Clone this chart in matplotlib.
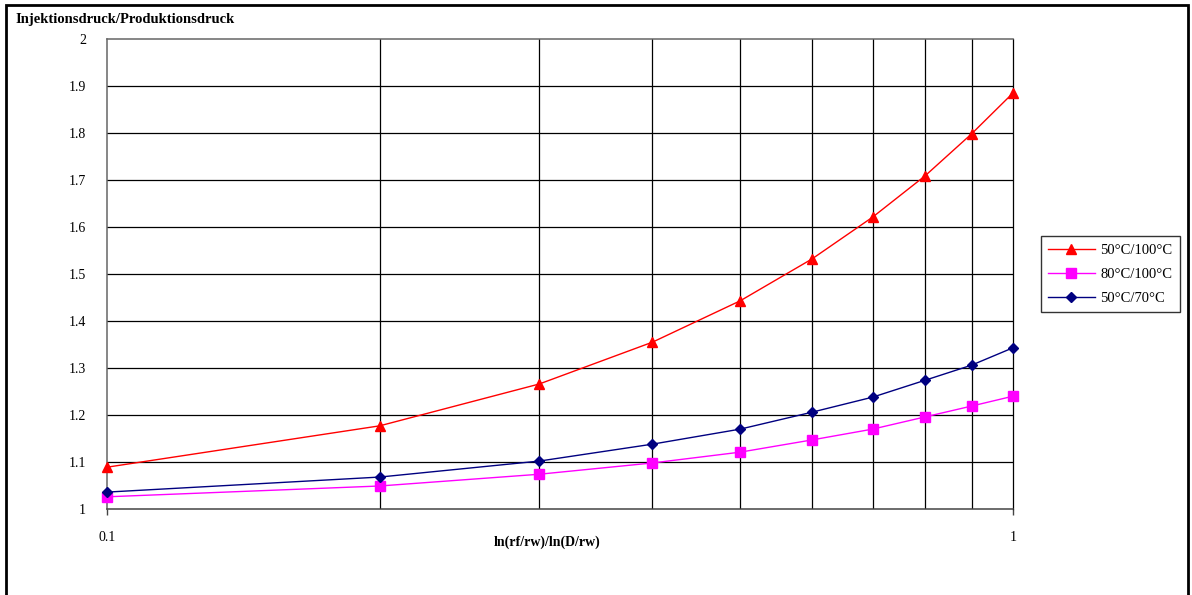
import numpy as np
import matplotlib.pyplot as plt
from matplotlib.patches import Rectangle
from matplotlib.ticker import FixedLocator, NullFormatter, FixedFormatter

plt.rcParams.update({
    "font.family": "Liberation Serif",
    "font.size": 9,
})

# ln(rf/rw)/ln(D/rw)
ratio = [0.1, 0.2, 0.3, 0.4, 0.5, 0.6, 0.7, 0.8, 0.9, 1.0]

# Injektionsdruck/Produktionsdruck for the three temperature pairs
p_50_100 = [1.089, 1.177, 1.266, 1.355, 1.443, 1.532, 1.621, 1.709, 1.798, 1.885]
p_80_100 = [1.026, 1.049, 1.074, 1.098, 1.121, 1.147, 1.170, 1.196, 1.219, 1.240]
p_50_70 = [1.036, 1.068, 1.102, 1.138, 1.170, 1.206, 1.238, 1.274, 1.306, 1.343]

y_ticks = [1.0, 1.1, 1.2, 1.3, 1.4, 1.5, 1.6, 1.7, 1.8, 1.9, 2.0]
y_labels = ["1", "1.1", "1.2", "1.3", "1.4", "1.5", "1.6", "1.7", "1.8", "1.9", "2"]

fig = plt.figure(figsize=(11.92, 5.95), dpi=100)
ax = fig.add_axes([0.0898, 0.1445, 0.7600, 0.7900])

ax.set_xscale("log")
ax.set_xlim(0.1, 1.0)
ax.set_ylim(1.0, 2.0)

# grid: horizontal every 0.1, vertical at 0.2 ... 0.9
for y in y_ticks[1:-1]:
    ax.axhline(y, color="black", lw=0.9, zorder=1)
for x in ratio[1:-1]:
    ax.axvline(x, color="black", lw=0.9, zorder=1)

ax.plot(ratio, p_50_100, color="red", lw=1.0, marker="^", ms=7,
        label="50°C/100°C", zorder=3, clip_on=False)
ax.plot(ratio, p_80_100, color="magenta", lw=1.0, marker="s", ms=7.5,
        label="80°C/100°C", zorder=3, clip_on=False)
ax.plot(ratio, p_50_70, color="navy", lw=1.0, marker="D", ms=5,
        label="50°C/70°C", zorder=3, clip_on=False)

ax.spines["left"].set_color("#666666")
ax.spines["top"].set_color("#666666")
ax.spines["bottom"].set_color("#444444")
ax.spines["right"].set_color("black")
for s in ax.spines.values():
    s.set_linewidth(1.1)
ax.spines["right"].set_linewidth(0.9)

ax.yaxis.set_major_locator(FixedLocator(y_ticks))
ax.yaxis.set_major_formatter(FixedFormatter(y_labels))
ax.xaxis.set_major_locator(FixedLocator([0.1, 1.0]))
ax.xaxis.set_major_formatter(FixedFormatter(["0.1", "1"]))
ax.xaxis.set_minor_locator(FixedLocator([]))
ax.xaxis.set_minor_formatter(NullFormatter())
ax.tick_params(axis="y", length=0, pad=15, labelsize=10)
ax.tick_params(axis="x", length=4, width=1, direction="out", pad=12,
               labelsize=10, color="#444444")

ax.set_xlabel("ln(rf/rw)/ln(D/rw)", fontweight="bold", fontsize=10,
              va="center")
ax.xaxis.set_label_coords(0.486, -0.070)
fig.text(0.0126, 0.961, "Injektionsdruck/Produktionsdruck",
         fontweight="bold", fontsize=10.5, ha="left", va="baseline")

leg = fig.legend(loc="upper left", bbox_to_anchor=(0.873, 0.603),
                 frameon=True, fancybox=False, edgecolor="black",
                 fontsize=10.5, handlelength=3.2, borderpad=0.5,
                 labelspacing=0.75, handletextpad=0.4, borderaxespad=0)
leg.get_frame().set_linewidth(1.0)

# outer chart border
fig.patches.append(Rectangle((0.005, -0.01), 0.992, 1.002,
                             transform=fig.transFigure, fill=False,
                             edgecolor="black", lw=2.0))

fig.savefig("out.png", dpi=100)
